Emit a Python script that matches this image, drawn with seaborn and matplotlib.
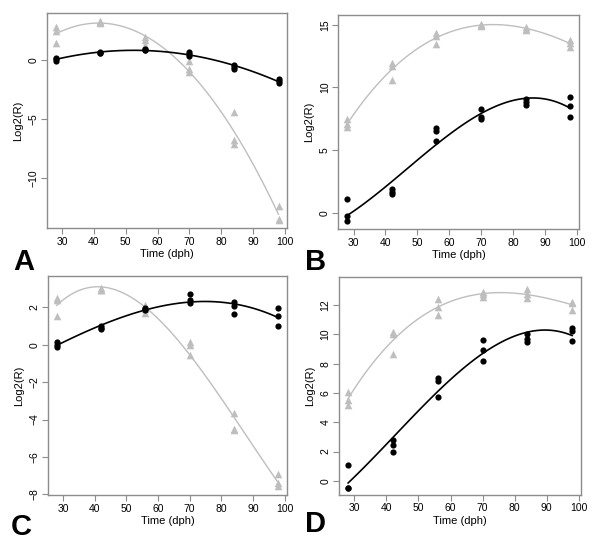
import numpy as np
import pandas as pd
import seaborn as sns
import matplotlib.pyplot as plt
from matplotlib.ticker import MultipleLocator

sns.set_style("white")
plt.rcParams['font.family'] = ['Liberation Sans', 'DejaVu Sans']
plt.rcParams['text.color'] = 'black'
plt.rcParams['axes.labelcolor'] = 'black'
plt.rcParams['xtick.labelcolor'] = 'black'
plt.rcParams['ytick.labelcolor'] = 'black'

# sampling days, three replicates each
dph = [28, 42, 56, 70, 84, 98]

# panel A
a_grey = [[2.75, 2.45, 1.45], [3.3, 3.2, 3.15], [1.95, 1.7, 1.25],
          [-0.1, -0.75, -1.05], [-4.4, -6.8, -7.1], [-12.4, -13.5, -13.55]]
a_black = [[0.2, 0.05, -0.1], [0.6, 0.55, 0.65], [0.9, 0.8, 0.85],
           [0.7, 0.48, 0.3], [-0.42, -0.62, -0.76], [-1.64, -1.8, -1.95]]
# panel B
b_grey = [[7.45, 7.05, 6.8], [11.95, 11.75, 10.6], [14.35, 14.1, 13.45],
          [15.1, 15.0, 14.9], [14.8, 14.7, 14.6], [13.75, 13.55, 13.2]]
b_black = [[1.05, -0.3, -0.7], [1.85, 1.65, 1.45], [6.75, 6.55, 5.75],
           [8.25, 7.6, 7.5], [9.05, 8.8, 8.6], [9.25, 8.5, 7.65]]
# panel C
c_grey = [[2.5, 2.4, 1.55], [3.05, 2.95, 2.95], [2.15, 1.9, 1.7],
          [0.15, 0.0, -0.55], [-3.65, -4.5, -4.55], [-6.9, -7.4, -7.55]]
c_black = [[0.14, 0.0, -0.12], [1.03, 0.91, 0.82], [1.95, 1.9, 1.85],
           [2.7, 2.4, 2.25], [2.3, 2.05, 1.65], [1.98, 1.53, 1.0]]
# panel D
d_grey = [[6.05, 5.52, 5.2], [10.18, 10.0, 8.68], [12.4, 11.86, 11.32],
          [12.89, 12.75, 12.55], [13.09, 12.75, 12.48], [12.23, 12.14, 11.64]]
d_black = [[1.05, -0.5, -0.5], [2.8, 2.45, 2.0], [7.0, 6.84, 5.75],
           [9.64, 8.91, 8.18], [10.02, 9.7, 9.45], [10.41, 10.25, 9.55]]

letters = ['A', 'B', 'C', 'D']
fit_order = [2, 3, 3, 3]
ytick_step = [5, 5, 2, 2]
y_limits = [(-14.27, 3.97), (-1.33, 15.76), (-8.05, 3.67), (-0.95, 13.9)]

grey = '#BEBEBE'
frame = '#8C8C8C'

fig = plt.figure(figsize=(6.0, 5.44), dpi=100)
boxes = [[0.0778, 0.5803, 0.4013, 0.3958],
         [0.5638, 0.5785, 0.4017, 0.3934],
         [0.0795, 0.0895, 0.3993, 0.4029],
         [0.5650, 0.0906, 0.4038, 0.3996]]
letter_pos = [(0.022, 0.503), (0.508, 0.504), (0.018, 0.017), (0.508, 0.022)]

panels = [(a_grey, a_black), (b_grey, b_black), (c_grey, c_black), (d_grey, d_black)]

for i, (g, b) in enumerate(panels):
    ax = fig.add_axes(boxes[i])
    df = pd.DataFrame({
        'x': np.repeat(dph, 3),
        'grey': np.ravel(g),
        'black': np.ravel(b),
    })
    sns.regplot(data=df, x='x', y='grey', order=fit_order[i], ci=None, scatter=False,
                color=grey, line_kws={'linewidth': 1.0}, ax=ax)
    sns.regplot(data=df, x='x', y='black', order=fit_order[i], ci=None, scatter=False,
                color='black', line_kws={'linewidth': 1.2}, ax=ax)
    sns.scatterplot(data=df, x='x', y='grey', marker='^', color=grey, s=30,
                    linewidth=0, ax=ax, zorder=3)
    sns.scatterplot(data=df, x='x', y='black', marker='o', color='black', s=20,
                    linewidth=0, ax=ax, zorder=4)

    ax.margins(x=0.04)
    ax.set_ylim(*y_limits[i])
    ax.xaxis.set_major_locator(MultipleLocator(10))
    ax.yaxis.set_major_locator(MultipleLocator(ytick_step[i]))
    for sp in ax.spines.values():
        sp.set_color(frame)
        sp.set_linewidth(1.0)
    ax.tick_params(axis='both', direction='out', length=4, width=0.8, color=frame,
                   labelsize=7.5, pad=2, left=True, bottom=True)
    ax.tick_params(axis='y', labelrotation=90)
    for lab in ax.get_yticklabels():
        lab.set_verticalalignment('center')
    ax.set_xlabel('Time (dph)', fontsize=8, labelpad=2)
    ax.set_ylabel('Log2(R)', fontsize=8, labelpad=4)
    fig.text(letter_pos[i][0], letter_pos[i][1], letters[i], fontsize=21,
             fontweight='bold', ha='left', va='baseline', color='black')

plt.savefig('out.png', dpi=100)
